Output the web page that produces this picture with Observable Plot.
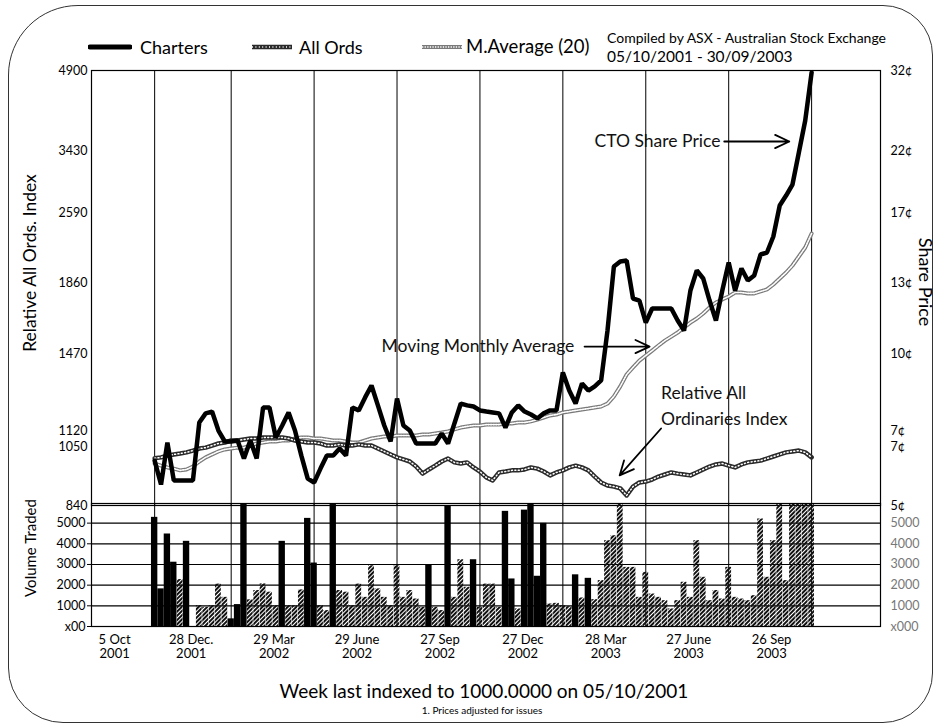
<!DOCTYPE html>
<html><head><meta charset="utf-8">
<script src="https://cdn.jsdelivr.net/npm/d3@7"></script>
<script src="https://cdn.jsdelivr.net/npm/@observablehq/plot@0.6"></script>
<style>
body{margin:0;width:939px;height:727px;position:relative;overflow:hidden;background:#fff;font-family:Lato,sans-serif;color:#000}
.abs{position:absolute;white-space:nowrap;line-height:1}
#border{position:absolute;left:8px;top:5px;width:925px;height:718px;border:1.5px solid #333;border-radius:70px 50px 50px 55px;box-sizing:border-box}
</style></head><body>
<div id="border"></div>
<div id="price" class="abs" style="left:0;top:0"></div>
<div id="volume" class="abs" style="left:0;top:503px"></div>
<div id="legend"></div>
<script>
// ---------- data (weekly from 05/10/2001, week index 0..103) ----------
const charters = [
 992,911,1057,925,925,925,925,1168,1208,1216,
 1133,1064,1064,1071,999,1071,999,1234,1234,1092,
 1155,1212,1133,1009,931,918,965,1009,1009,1033,
 1009,1234,1221,1278,1330,1243,1155,1064,1273,1155,
 1133,1050,1050,1050,1050,1120,1050,1164,1251,1243,
 1238,1221,1216,1212,1208,1146,1212,1243,1216,1203,
 1186,1208,1221,1221,1387,1308,1251,1339,1308,1326,
 1352,1596,2027,2079,2089,1772,1761,1640,1717,1717,
 1717,1717,1651,1596,1816,1985,1902,1761,1651,1816,
 2069,1816,2006,1881,1933,2152,2173,2340,2685,2820,
 2969,3403,3981,4863];
const allOrds = [
 1000,1003,1009,1013,1016,1020,1026,1033,1036,1043,
 1050,1057,1071,1071,1078,1085,1085,1092,1092,1092,
 1092,1085,1071,1064,1057,1057,1050,1043,1043,1047,
 1043,1043,1047,1043,1043,1033,1023,1013,1003,996,
 989,972,948,962,975,989,999,986,982,986,
 969,955,935,925,952,955,959,959,962,969,
 965,955,942,952,959,969,975,969,959,938,
 918,908,904,898,874,904,918,921,928,938,
 945,952,948,945,942,952,962,972,979,982,
 975,969,979,986,989,992,999,1006,1013,1020,
 1023,1026,1020,1003];
const mAverage = [
 982,975,969,965,959,962,972,989,1003,1013,
 1023,1030,1033,1036,1036,1043,1050,1057,1064,1064,
 1071,1071,1085,1092,1092,1085,1085,1078,1071,1071,
 1064,1057,1057,1071,1085,1092,1099,1099,1106,1106,
 1106,1106,1113,1113,1120,1124,1129,1138,1146,1151,
 1155,1155,1159,1159,1159,1164,1164,1168,1168,1173,
 1181,1190,1199,1203,1212,1216,1221,1225,1229,1234,
 1238,1251,1282,1326,1378,1409,1439,1461,1486,1514,
 1541,1563,1585,1613,1640,1662,1690,1723,1750,1767,
 1783,1805,1805,1800,1800,1811,1822,1849,1902,1964,
 2037,2131,2225,2371];
const volumeSolid = [
 5280,1820,4475,3110,0,4120,0,0,0,0,
 0,0,370,1060,5900,0,0,0,0,0,
 4120,0,0,0,5230,3070,0,0,5900,0,
 0,0,0,0,0,0,0,0,0,0,
 0,0,0,2970,0,0,5840,0,0,0,
 3230,0,0,0,0,5570,2300,0,5630,5900,
 2430,4990,0,0,0,0,2500,0,2330,0,
 0,0,0,0,0,0,0,0,0,0,
 0,0,0,0,0,0,0,0,0,0,
 0,0,0,0,0,0,0,0,0,0,
 0,0,0,0];
const volumeHatched = [
 0,0,0,0,2270,0,0,1010,930,1010,
 2050,1410,0,0,0,1290,1740,2060,1660,1010,
 0,1010,1010,1770,0,0,1010,770,0,1740,
 1660,1010,2050,1410,2940,1820,1410,1010,2940,1410,
 1740,1330,930,0,930,770,0,1410,3230,1900,
 0,930,2050,2050,930,0,0,850,0,0,
 0,0,1090,1120,1010,960,0,1380,0,1300,
 2220,4150,4390,5940,2860,2860,1410,2620,1570,1410,
 1250,850,1250,2140,1410,4150,2380,1250,1740,1330,
 2860,1410,1330,1250,1490,5200,2380,4150,5940,2220,
 5940,5940,5940,5940];

const indexTicks = [840,1050,1120,1470,1860,2590,3430,4900];
const centLabels = ["5¢","7¢","7¢","10¢","13¢","17¢","22¢","32¢"];
const volumeTicks = [0,1000,2000,3000,4000,5000];
const volumeLeftLabels = ["x00","1000","2000","3000","4000","5000"];
const volumeRightLabels = ["x000","1000","2000","3000","4000","5000"];
const gridWeeks = [0,12,25,38,51,64,77,90,103];
const dateLabels = ["5 Oct\n2001","28 Dec.\n2001","29 Mar\n2002","29 June\n2002","27 Sep\n2002","27 Dec\n2002","28 Mar\n2003","27 June\n2003","26 Sep\n2003"];

// annotations (week, index value)
const notesEnd = [
  {week: 88.7, value: 3595, text: "CTO Share Price"},
  {week: 65.8, value: 1508, text: "Moving Monthly Average"}
];
const notesStart = [{week: 79.4, value: 1251, text: "Relative All\nOrdinaries Index"}];
const arrows = [
  {w1: 89.3, v1: 3595, w2: 99.5, v2: 3595},
  {w1: 67.4, v1: 1508, w2: 77.6, v2: 1508},
  {w1: 79.4, v1: 1142, w2: 72.9, v2: 942}
];

// ---------- build ----------
const FONT = "Lato, sans-serif";
const rows = charters.map((c, i) => ({week: i, charters: c, allOrds: allOrds[i], ma: mAverage[i]}));
const solidRows = volumeSolid.map((v, i) => ({week: i, v})).filter(d => d.v > 0);
const hatchRows = volumeHatched.map((v, i) => ({week: i, v})).filter(d => d.v > 0);
const xScale = {domain: [-9.9, 113.8], range: [91, 880]};

// the chart's index axis is piecewise: each labelled tick sits at its own height
const tickStep = d3.scaleLinear().domain(indexTicks).range([0, 62, 72, 152, 223, 293, 355, 435]);
const mainTicks = indexTicks.filter(d => d !== 1050 && d !== 1120);
const leftFmt = d => String(d);
const rightFmt = d => centLabels[indexTicks.indexOf(d)];
const tickFont = {fontSize: 12.5, letterSpacing: "0.6px", label: null, tickSize: 0};

const price = Plot.plot({
  width: 939, height: 506,
  marginLeft: 91, marginRight: 59, marginTop: 70, marginBottom: 1,
  style: {background: "transparent", fontFamily: FONT, fontSize: "13px", overflow: "visible"},
  x: {...xScale, axis: null},
  y: {transform: v => tickStep(v), domain: [0, 435], range: [505, 70], label: null},
  marks: [
    Plot.ruleX(gridWeeks, {stroke: "#000", strokeWidth: 1}),
    Plot.frame({stroke: "#000", strokeWidth: 1.2}),
    Plot.line(rows, {x: "week", y: "ma", stroke: "#7a7a7a", strokeWidth: 4}),
    Plot.line(rows, {x: "week", y: "ma", stroke: "#fff", strokeWidth: 1.6, strokeDasharray: "1.3 1.3"}),
    Plot.line(rows, {x: "week", y: "allOrds", stroke: "#2a2a2a", strokeWidth: 4.5}),
    Plot.line(rows, {x: "week", y: "allOrds", stroke: "#fff", strokeWidth: 1.5, strokeDasharray: "1 2.4"}),
    Plot.line(rows, {x: "week", y: "charters", stroke: "#000", strokeWidth: 4.5, strokeLinejoin: "miter"}),
    Plot.arrow(arrows, {x1: "w1", y1: "v1", x2: "w2", y2: "v2", stroke: "#000", strokeWidth: 1.8, headLength: 13, headAngle: 50}),
    Plot.text(notesEnd, {x: "week", y: "value", text: "text", textAnchor: "end", fontSize: 17.5, fill: "#111"}),
    Plot.text(notesStart, {x: "week", y: "value", text: "text", textAnchor: "start", fontSize: 17.5, lineHeight: 1.5, fill: "#111"}),
    Plot.axisY(mainTicks, {anchor: "left", tickPadding: 4, tickFormat: leftFmt, ...tickFont}),
    Plot.axisY([1120], {anchor: "left", tickPadding: 4, tickFormat: leftFmt, dy: -3, ...tickFont}),
    Plot.axisY([1050], {anchor: "left", tickPadding: 4, tickFormat: leftFmt, dy: 3.5, ...tickFont}),
    Plot.axisY(mainTicks, {anchor: "right", tickPadding: 10, tickFormat: rightFmt, ...tickFont}),
    Plot.axisY([1120], {anchor: "right", tickPadding: 10, tickFormat: rightFmt, dy: -3, ...tickFont}),
    Plot.axisY([1050], {anchor: "right", tickPadding: 10, tickFormat: rightFmt, dy: 3.5, ...tickFont})
  ]
});
document.getElementById("price").appendChild(price);

const vol = Plot.plot({
  width: 939, height: 170,
  marginLeft: 91, marginRight: 59, marginTop: 0, marginBottom: 47,
  style: {background: "transparent", fontFamily: FONT, fontSize: "13px", overflow: "visible"},
  x: {...xScale},
  y: {domain: [0, 5950], range: [123, 0], clamp: true, label: null},
  marks: [
    Plot.ruleX(gridWeeks, {stroke: "#000"}),
    Plot.ruleY(volumeTicks, {stroke: "#000", strokeWidth: 1.2}),
    Plot.rect(hatchRows, {x1: d => d.week - 0.5, x2: d => d.week + 0.5, y1: 0, y2: "v", fill: "url(#hatch)", insetLeft: 0.3, insetRight: 0.3}),
    Plot.rect(solidRows, {x1: d => d.week - 0.5, x2: d => d.week + 0.5, y1: 0, y2: "v", fill: "#000"}),
    Plot.frame({stroke: "#000", strokeWidth: 1.2}),
    Plot.axisY(volumeTicks, {anchor: "left", tickSize: 4, tickPadding: 2, fontSize: 12.5, letterSpacing: "0.4px", label: null,
      tickFormat: d => volumeLeftLabels[volumeTicks.indexOf(d)]}),
    Plot.axisY(volumeTicks, {anchor: "right", tickSize: 0, tickPadding: 10, fontSize: 12.5, letterSpacing: "0.4px", label: null, fill: "#777",
      tickFormat: d => volumeRightLabels[volumeTicks.indexOf(d)]}),
    Plot.axisX(gridWeeks, {tickSize: 0, tickPadding: 7, dx: -40, fontSize: 13, lineHeight: 1.1, label: null,
      tickFormat: d => dateLabels[gridWeeks.indexOf(d)]})
  ]
});
d3.select(vol).insert("defs", ":first-child").html(
  '<pattern id="hatch" width="3" height="3" patternUnits="userSpaceOnUse" patternTransform="rotate(45)">' +
  '<rect width="2" height="3" fill="#111"/></pattern>');
document.getElementById("volume").appendChild(vol);

// ---------- legend & texts ----------
const L = document.getElementById("legend");
function add(html){ L.insertAdjacentHTML("beforeend", html); }
add('<svg class="abs" style="left:88px;top:41px" width="44" height="12"><line x1="2" y1="6" x2="42" y2="6" stroke="#000" stroke-width="5" stroke-linecap="round"/></svg>');
add('<div class="abs" style="left:140px;top:38px;font-size:18px">Charters</div>');
add('<svg class="abs" style="left:250px;top:41px" width="44" height="12"><line x1="2" y1="6" x2="42" y2="6" stroke="#2a2a2a" stroke-width="4.5"/><line x1="2" y1="6" x2="42" y2="6" stroke="#fff" stroke-width="1.5" stroke-dasharray="1 2.4"/></svg>');
add('<div class="abs" style="left:299px;top:38px;font-size:18px">All Ords</div>');
add('<svg class="abs" style="left:420px;top:41px" width="44" height="12"><line x1="2" y1="6" x2="42" y2="6" stroke="#7a7a7a" stroke-width="4"/><line x1="2" y1="6" x2="42" y2="6" stroke="#fff" stroke-width="1.6" stroke-dasharray="1.3 1.3"/></svg>');
add('<div class="abs" style="left:466px;top:37px;font-size:18.5px">M.Average (20)</div>');
add('<div class="abs" style="left:607px;top:31px;font-size:14px">Compiled by ASX - Australian Stock Exchange</div>');
add('<div class="abs" style="left:607px;top:49px;font-size:15.5px">05/10/2001 - 30/09/2003</div>');
add('<div class="abs" style="left:30px;top:263px;font-size:17.5px;transform:translate(-50%,-50%) rotate(-90deg)">Relative All Ords. Index</div>');
add('<div class="abs" style="left:30px;top:548px;font-size:15px;transform:translate(-50%,-50%) rotate(-90deg)">Volume Traded</div>');
add('<div class="abs" style="left:926px;top:282px;font-size:18px;transform:translate(-50%,-50%) rotate(90deg)">Share Price</div>');
add('<div class="abs" style="left:484px;top:690px;font-size:19px;transform:translate(-50%,-50%)">Week last indexed to 1000.0000 on 05/10/2001</div>');
add('<div class="abs" style="left:482px;top:710px;font-size:10px;transform:translate(-50%,-50%)">1. Prices adjusted for issues</div>');
</script>
</body></html>
